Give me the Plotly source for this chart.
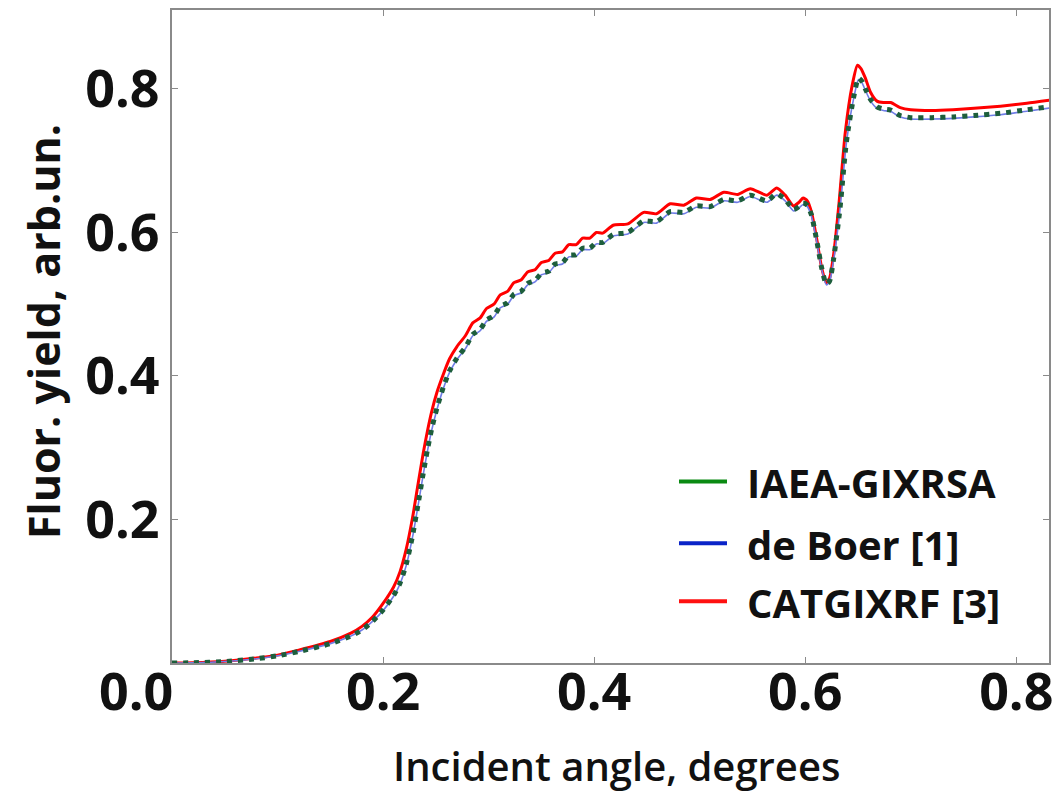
import plotly.graph_objects as go

# ---- data ----
angle = [0.0, 0.02, 0.05, 0.08, 0.10, 0.12, 0.15, 0.17, 0.18, 0.19, 0.20, 0.21, 0.216, 0.222,
         0.228, 0.233, 0.238, 0.242, 0.246, 0.251, 0.257, 0.263, 0.27, 0.278, 0.285, 0.292,
         0.298, 0.305, 0.311, 0.318, 0.324, 0.331, 0.337, 0.344, 0.350, 0.357, 0.363, 0.370,
         0.376, 0.383, 0.389, 0.396, 0.402, 0.408, 0.418, 0.432, 0.447, 0.459, 0.472, 0.485,
         0.497, 0.510, 0.523, 0.536, 0.548, 0.5637, 0.573, 0.581, 0.589, 0.594, 0.598, 0.602,
         0.606, 0.611, 0.6157, 0.620, 0.623, 0.627, 0.633, 0.639, 0.6457, 0.6505, 0.654,
         0.657, 0.662, 0.668, 0.674, 0.681, 0.690, 0.700, 0.720, 0.740, 0.760, 0.785, 0.81, 0.835]

iaea_gixrsa = [0.0, 0.0003, 0.002, 0.006, 0.010, 0.016, 0.027, 0.038, 0.046, 0.058, 0.074, 0.094,
               0.111, 0.138, 0.178, 0.220, 0.264, 0.297, 0.326, 0.355, 0.384, 0.407, 0.425, 0.440,
               0.458, 0.465, 0.478, 0.484, 0.497, 0.502, 0.514, 0.518, 0.529, 0.533, 0.543, 0.546,
               0.556, 0.558, 0.568, 0.569, 0.578, 0.578, 0.586, 0.586, 0.597, 0.600, 0.616, 0.615,
               0.629, 0.628, 0.637, 0.636, 0.646, 0.644, 0.652, 0.644, 0.654, 0.646, 0.632, 0.636,
               0.641, 0.638, 0.624, 0.588, 0.550, 0.528, 0.532, 0.564, 0.634, 0.726, 0.787, 0.815,
               0.810, 0.800, 0.785, 0.775, 0.772, 0.7705, 0.763, 0.760, 0.760, 0.761, 0.763, 0.766,
               0.771, 0.776]

de_boer = [0.0, 0.0003, 0.002, 0.006, 0.010, 0.016, 0.027, 0.038, 0.046, 0.058, 0.073, 0.093,
           0.110, 0.136, 0.176, 0.218, 0.262, 0.295, 0.324, 0.353, 0.382, 0.405, 0.423, 0.438,
           0.456, 0.463, 0.476, 0.482, 0.495, 0.500, 0.512, 0.516, 0.527, 0.531, 0.541, 0.544,
           0.554, 0.556, 0.566, 0.567, 0.576, 0.576, 0.584, 0.584, 0.595, 0.598, 0.614, 0.613,
           0.627, 0.626, 0.635, 0.634, 0.644, 0.642, 0.650, 0.642, 0.652, 0.644, 0.630, 0.634,
           0.639, 0.636, 0.622, 0.586, 0.548, 0.527, 0.531, 0.562, 0.632, 0.724, 0.785, 0.813,
           0.808, 0.798, 0.783, 0.773, 0.770, 0.7685, 0.761, 0.758, 0.758, 0.759, 0.761, 0.764,
           0.769, 0.774]

angle_cat = [0.0, 0.02, 0.05, 0.08, 0.10, 0.12, 0.15, 0.17, 0.18, 0.19, 0.20, 0.21, 0.216, 0.222,
             0.228, 0.233, 0.238, 0.242, 0.246, 0.251, 0.257, 0.263, 0.27, 0.278, 0.285, 0.292,
             0.298, 0.305, 0.311, 0.318, 0.324, 0.331, 0.337, 0.344, 0.350, 0.357, 0.363, 0.370,
             0.376, 0.383, 0.389, 0.396, 0.402, 0.408, 0.418, 0.432, 0.447, 0.459, 0.472, 0.485,
             0.497, 0.510, 0.523, 0.536, 0.548, 0.5637, 0.573, 0.581, 0.589, 0.594, 0.598, 0.602,
             0.606, 0.611, 0.6157, 0.620, 0.623, 0.627, 0.632, 0.638, 0.6445, 0.6495, 0.653,
             0.657, 0.662, 0.668, 0.674, 0.681, 0.690, 0.700, 0.720, 0.740, 0.760, 0.785, 0.81, 0.835]

catgixrf = [0.0, 0.0004, 0.0025, 0.007, 0.011, 0.018, 0.030, 0.042, 0.051, 0.064, 0.083, 0.106,
            0.127, 0.159, 0.203, 0.248, 0.292, 0.323, 0.350, 0.377, 0.402, 0.424, 0.441, 0.456,
            0.474, 0.481, 0.494, 0.500, 0.513, 0.518, 0.530, 0.534, 0.545, 0.548, 0.558, 0.561,
            0.571, 0.573, 0.583, 0.583, 0.592, 0.592, 0.600, 0.599, 0.610, 0.612, 0.628, 0.626,
            0.640, 0.638, 0.648, 0.646, 0.656, 0.653, 0.661, 0.652, 0.662, 0.652, 0.637, 0.642,
            0.648, 0.644, 0.628, 0.590, 0.550, 0.530, 0.536, 0.570, 0.640, 0.740, 0.805, 0.833,
            0.828, 0.815, 0.795, 0.783, 0.781, 0.781, 0.774, 0.771, 0.770, 0.771, 0.773, 0.776,
            0.780, 0.785]

x_ticks = [0.0, 0.2, 0.4, 0.6, 0.8]
x_tick_labels = ["", "0.2", "0.4", "0.6", "0.8"]
x_origin_label = "0.0"
y_ticks = [0.2, 0.4, 0.6, 0.8]
y_tick_labels = ["0.2", "0.4", "0.6", "0.8"]
series_names = ["IAEA-GIXRSA", "de Boer [1]", "CATGIXRF [3]"]
legend_colors = ["#0a8a12", "#0a24c8", "#ff1010"]

FONT = "Open Sans"
TXT = "#111111"

fig = go.Figure()

fig.add_trace(go.Scatter(x=angle_cat, y=catgixrf, mode="lines", name=series_names[2],
                         line=dict(color="#ff0000", width=3, shape="spline", smoothing=0.6),
                         showlegend=False))
fig.add_trace(go.Scatter(x=angle, y=de_boer, mode="lines", name=series_names[1],
                         line=dict(color="#6f7de6", width=1.6, shape="spline", smoothing=0.6),
                         showlegend=False))
fig.add_trace(go.Scatter(x=angle, y=iaea_gixrsa, mode="lines", name=series_names[0],
                         line=dict(color="#1d5e3c", width=5, dash="5px,6px",
                                   shape="spline", smoothing=0.6),
                         showlegend=False))

# plot-area pixel frame
pw_l, pw_r, pw_t, pw_b = 172, 1049, 8, 663
def px_x(p):
    return (p - pw_l) / (pw_r - pw_l)
def px_y(p):
    return (pw_b - p) / (pw_b - pw_t)

# manual legend (line samples + labels)
leg_x0, leg_x1 = 679, 727
leg_rows = [481, 543, 601]
for name, col, yy in zip(series_names, legend_colors, leg_rows):
    fig.add_shape(type="line", xref="paper", yref="paper",
                  x0=px_x(leg_x0), x1=px_x(leg_x1), y0=px_y(yy), y1=px_y(yy),
                  line=dict(color=col, width=4))
    fig.add_annotation(text=name, xref="paper", yref="paper", x=px_x(745), y=px_y(yy + 1),
                       xanchor="left", yanchor="middle", showarrow=False,
                       font=dict(family=FONT, size=40, color=TXT, weight="bold"))

# origin tick label (drawn left of the corner, as in the reference)
fig.add_annotation(text=x_origin_label, xref="x", yref="paper", x=0, y=px_y(690),
                   xanchor="right", yanchor="middle", xshift=3, showarrow=False,
                   font=dict(family=FONT, size=52, color=TXT, weight="bold"))

# axis titles
fig.add_annotation(text="Incident angle, degrees", xref="paper", yref="paper",
                   x=px_x(616), y=px_y(766), xanchor="center", yanchor="middle",
                   showarrow=False,
                   font=dict(family=FONT, size=40, color=TXT, weight=600))
fig.add_annotation(text="Fluor. yield, arb.un.", xref="paper", yref="paper",
                   x=px_x(43), y=px_y(331), xanchor="center", yanchor="middle",
                   showarrow=False, textangle=-90,
                   font=dict(family=FONT, size=43, color=TXT, weight="bold"))

axis_common = dict(showline=True, linecolor="#8a8a8a", linewidth=2, mirror="ticks",
                   ticks="inside", ticklen=6, tickwidth=1, tickcolor="#8a8a8a",
                   showgrid=False, zeroline=False,
                   tickfont=dict(family=FONT, size=52, color=TXT, weight="bold"))

fig.update_xaxes(range=[0, 0.831], tickvals=x_ticks, ticktext=x_tick_labels,
                 ticklabelstandoff=-17, **axis_common)
fig.update_yaxes(range=[0, 0.91], tickvals=y_ticks, ticktext=y_tick_labels, **axis_common)

fig.update_layout(width=1064, height=796, plot_bgcolor="white", paper_bgcolor="white",
                  margin=dict(l=pw_l, r=1064 - pw_r, t=pw_t, b=796 - pw_b),
                  showlegend=False)

fig.write_html("out.html")
